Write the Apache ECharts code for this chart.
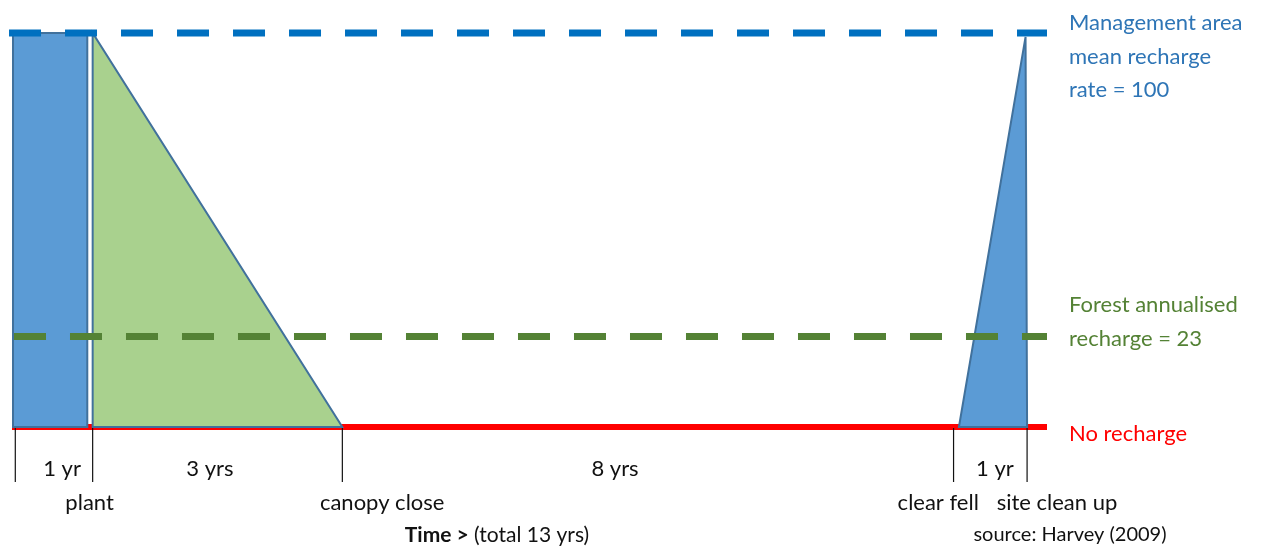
<!DOCTYPE html>
<html>
<head>
<meta charset="utf-8">
<title>Recharge over a plantation rotation</title>
<script src="https://cdn.jsdelivr.net/npm/echarts@6/dist/echarts.min.js"></script>
<style>
  html, body { margin: 0; padding: 0; background: #ffffff; }
  #chart { width: 1263px; height: 546px; }
</style>
</head>
<body>
<div id="chart"></div>
<script>
// Recharge rates (0 = none, 100 = management-area mean)
const managementRate = 100;
const forestAnnualised = 23;
const noRecharge = 0;

// Time line extent, in schematic years
const timelineStart = 0;
const timelineEnd = 13.5;

// Recharge shapes as [time, recharge] vertices
const bareSiteShape = [[0, 0], [0, 100], [0.97, 100], [0.97, 0]];
const growthShape = [[1.04, 100], [1.04, 0], [4.3, 0]];
const fellShape = [[12.35, 0], [13.22, 99], [13.24, 0]];

// Event markers along the time line
const eventPos = [0.03, 1.04, 4.3, 12.28, 13.24];
const spanLabels = ['1 yr', '3 yrs', '8 yrs', '1 yr'];
const spanLabelPos = [0.64, 2.57, 7.86, 12.82];
const stageLabels = ['plant', 'canopy close', 'clear fell', 'site clean up'];
const stageLabelPos = [1.0, 4.82, 12.08, 13.63];

const FONT = 'Lato, "Open Sans", sans-serif';
const TEXT_SIZE = 22;

const shapes = [bareSiteShape, growthShape, fellShape];
const shapeFills = ['#5B9BD5', '#A9D18E', '#5B9BD5'];

const chart = echarts.init(document.getElementById('chart'), null, { renderer: 'canvas' });

function textAt(list, positions, dy) {
  return {
    type: 'custom',
    silent: true,
    z: 5,
    data: positions.map(x => [x, noRecharge]),
    renderItem: (params, api) => {
      const p = api.coord([api.value(0), api.value(1)]);
      return {
        type: 'text',
        style: {
          x: p[0], y: p[1] + dy,
          text: list[params.dataIndex],
          fill: '#111111',
          font: `${TEXT_SIZE}px ${FONT}`,
          align: 'center',
          verticalAlign: 'middle'
        }
      };
    }
  };
}

function dashed(y, x0, color) {
  return {
    type: 'line',
    silent: true,
    clip: false,
    symbol: 'none',
    z: 4,
    data: [[x0, y], [timelineEnd, y]],
    lineStyle: { color, width: 7, type: [32, 24], cap: 'butt' }
  };
}

function sideText(y, text, fill) {
  return { type: 'text', style: { x: 1069, y, text, fill, font: `${TEXT_SIZE}px ${FONT}`, verticalAlign: 'middle' } };
}

const option = {
  animation: false,
  backgroundColor: '#ffffff',
  grid: { left: 13, right: 216, top: 33, bottom: 119 },
  xAxis: { type: 'value', min: timelineStart, max: timelineEnd, show: false },
  yAxis: { type: 'value', min: 0, max: managementRate, show: false },
  series: [
    // No-recharge base line
    {
      type: 'line',
      silent: true,
      clip: false,
      symbol: 'none',
      z: 1,
      data: [[-0.013, noRecharge], [timelineEnd, noRecharge]],
      lineStyle: { color: '#FF0000', width: 6, cap: 'butt' }
    },
    // Recharge shapes
    {
      type: 'custom',
      silent: true,
      z: 2,
      data: shapes.map(s => s[0]),
      renderItem: (params, api) => ({
        type: 'polygon',
        shape: { points: shapes[params.dataIndex].map(v => api.coord(v)) },
        style: { fill: shapeFills[params.dataIndex], stroke: '#41719C', lineWidth: 2 }
      })
    },
    dashed(managementRate, -0.052, '#0070C0'),
    dashed(forestAnnualised, 0.013, '#548235'),
    // Event ticks below the time line
    {
      type: 'custom',
      silent: true,
      z: 5,
      data: eventPos.map(x => [x, noRecharge]),
      renderItem: (params, api) => {
        const p = api.coord([api.value(0), api.value(1)]);
        return {
          type: 'line',
          shape: { x1: p[0], y1: p[1] + 1, x2: p[0], y2: p[1] + 55 },
          style: { stroke: '#111111', lineWidth: 1.2 }
        };
      }
    },
    textAt(spanLabels, spanLabelPos, 42),
    textAt(stageLabels, stageLabelPos, 76)
  ],
  graphic: [
    sideText(23, 'Management area', '#2E75B6'),
    sideText(57, 'mean recharge', '#2E75B6'),
    sideText(90, `rate = ${managementRate}`, '#2E75B6'),
    sideText(305, 'Forest annualised', '#548235'),
    sideText(339, `recharge = ${forestAnnualised}`, '#548235'),
    sideText(434, 'No recharge', '#FF0000'),
    {
      type: 'text',
      style: {
        x: 497, y: 535,
        text: '{b|Time >} (total 13 yrs)',
        rich: {
          b: { fontWeight: 'bold', fontSize: 21, fontFamily: FONT, fill: '#111111' }
        },
        font: `21px ${FONT}`,
        fill: '#111111',
        align: 'center',
        verticalAlign: 'middle'
      }
    },
    { type: 'text', style: { x: 1070, y: 535, text: 'source: Harvey (2009)', fill: '#111111', font: `20px ${FONT}`, align: 'center', verticalAlign: 'middle' } }
  ]
};

chart.setOption(option);
</script>
</body>
</html>
